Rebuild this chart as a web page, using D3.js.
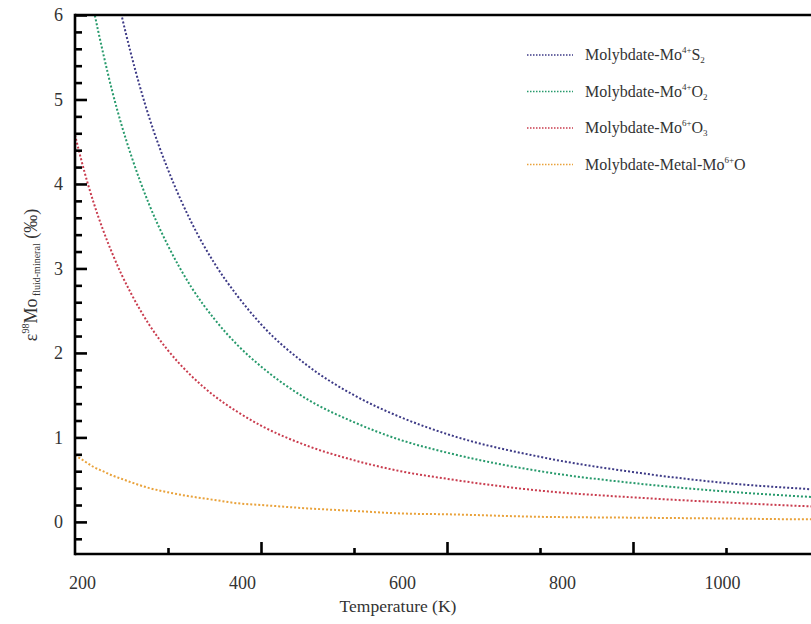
<!DOCTYPE html>
<html>
<head>
<meta charset="utf-8">
<script src="https://cdn.jsdelivr.net/npm/d3@7/dist/d3.min.js"></script>
<style>
  html, body { margin: 0; padding: 0; background: #fff; }
  svg { display: block; font-family: "Liberation Serif", "Times New Roman", "DejaVu Serif", serif; }
</style>
</head>
<body>
<svg id="chart" width="811" height="624"></svg>
<script>
// ---- data ----
const temps = [200, 210, 220, 230, 240, 250, 260, 280, 300, 325, 350, 375, 400, 450, 500, 550, 600, 700, 800, 900, 1000, 1100];
const moS2  = [9.38, 8.50, 7.75, 7.09, 6.51, 6.00, 5.55, 4.78, 4.17, 3.55, 3.06, 2.67, 2.34, 1.85, 1.50, 1.24, 1.04, 0.77, 0.59, 0.46, 0.38, 0.31];
const moO2  = [7.35, 6.67, 6.07, 5.56, 5.10, 4.70, 4.35, 3.75, 3.27, 2.78, 2.40, 2.09, 1.84, 1.45, 1.18, 0.97, 0.82, 0.60, 0.46, 0.36, 0.29, 0.24];
const moO3  = [4.58, 4.15, 3.78, 3.46, 3.18, 2.93, 2.71, 2.33, 2.03, 1.73, 1.49, 1.30, 1.14, 0.90, 0.73, 0.60, 0.51, 0.37, 0.29, 0.23, 0.18, 0.15];
const metal = [0.79, 0.72, 0.65, 0.60, 0.55, 0.51, 0.47, 0.40, 0.35, 0.30, 0.26, 0.22, 0.20, 0.16, 0.13, 0.10, 0.09, 0.06, 0.05, 0.04, 0.03, 0.03];

const seriesNames = [
  {main: "Molybdate-Mo", sup: "4+", tail: "S", sub: "2"},
  {main: "Molybdate-Mo", sup: "4+", tail: "O", sub: "2"},
  {main: "Molybdate-Mo", sup: "6+", tail: "O", sub: "3"},
  {main: "Molybdate-Metal-Mo", sup: "6+", tail: "O", sub: ""}
];
const seriesValues = [moS2, moO2, moO3, metal];
const seriesColors = ["#3d3a86", "#279a6c", "#c93c4e", "#e9a23b"];

const xTickMajor = [400, 600, 800, 1000];
const xTickMinor = [300, 500, 700, 900, 1100];
const xTickLabels = [200, 400, 600, 800, 1000];
const yTickMajor = [0, 1, 2, 3, 4, 5, 6];
const yTickMinor = [-0.2, 0.2, 0.4, 0.6, 0.8, 1.2, 1.4, 1.6, 1.8, 2.2, 2.4, 2.6, 2.8, 3.2, 3.4, 3.6, 3.8, 4.2, 4.4, 4.6, 4.8, 5.2, 5.4, 5.6, 5.8];

// ---- layout ----
const svg = d3.select("#chart");
const mLeft = 75, mTop = 15, mBottom = 554;

const x = d3.scaleLinear().domain([200, 1200]).range([mLeft, mLeft + 930]);
const y = d3.scaleLinear().domain([-0.38, 6]).range([mBottom, mTop]);
// the tick-label row of the reference is laid out on its own spacing
const xLab = d3.scaleLinear().domain([200, 1000]).range([82, 722]);

svg.append("defs").append("clipPath").attr("id", "clip")
  .append("rect").attr("x", mLeft).attr("y", mTop).attr("width", 811 - mLeft).attr("height", mBottom - mTop);

// curves
const line = d3.line().x((d, i) => x(temps[i])).y(d => y(d)).curve(d3.curveMonotoneX);
const plot = svg.append("g").attr("clip-path", "url(#clip)");
seriesValues.forEach((vals, k) => {
  plot.append("path")
    .attr("d", line(vals))
    .attr("fill", "none")
    .attr("stroke", seriesColors[k])
    .attr("stroke-width", 2)
    .attr("stroke-dasharray", "2,2");
});

// axes
function styleAxis(g) {
  g.select(".domain").remove();
  g.selectAll(".tick line").attr("stroke", "#000").attr("stroke-width", 2.6);
}
svg.append("g").attr("transform", `translate(0,${mBottom})`)
  .call(d3.axisBottom(x).tickValues(xTickMajor).tickSize(-12).tickFormat(""))
  .call(styleAxis);
svg.append("g").attr("transform", `translate(0,${mBottom})`)
  .call(d3.axisBottom(x).tickValues(xTickMinor).tickSize(-6).tickFormat(""))
  .call(styleAxis);
svg.append("g").attr("transform", `translate(0,${mBottom})`)
  .call(d3.axisBottom(xLab).tickValues(xTickLabels).tickSize(0).tickPadding(22).tickFormat(d3.format("d")))
  .call(g => { g.select(".domain").remove(); g.selectAll(".tick line").remove(); })
  .call(g => g.selectAll("text").attr("font-size", 18).attr("fill", "#333").attr("font-family", "Liberation Serif"));

svg.append("g").attr("transform", `translate(${mLeft},0)`)
  .call(d3.axisLeft(y).tickValues(yTickMajor).tickSize(-12).tickPadding(12).tickFormat(d3.format("d")))
  .call(styleAxis)
  .call(g => g.selectAll("text").attr("font-size", 18).attr("fill", "#333").attr("font-family", "Liberation Serif"));
svg.append("g").attr("transform", `translate(${mLeft},0)`)
  .call(d3.axisLeft(y).tickValues(yTickMinor).tickSize(-7).tickFormat(""))
  .call(styleAxis);

// frame lines
svg.append("line").attr("x1", mLeft).attr("x2", 811).attr("y1", mBottom).attr("y2", mBottom)
  .attr("stroke", "#000").attr("stroke-width", 2.6);
svg.append("line").attr("x1", mLeft).attr("x2", 811).attr("y1", mTop).attr("y2", mTop)
  .attr("stroke", "#000").attr("stroke-width", 2.6);
svg.append("line").attr("x1", mLeft).attr("x2", mLeft).attr("y1", mTop - 1.3).attr("y2", mBottom + 1.3)
  .attr("stroke", "#000").attr("stroke-width", 2.6);

// axis titles
svg.append("text").attr("x", 398).attr("y", 612).attr("text-anchor", "middle")
  .attr("font-size", 17.5).attr("fill", "#333").text("Temperature (K)");

const yt = svg.append("text").attr("transform", "translate(37,275) rotate(-90)")
  .attr("text-anchor", "middle").attr("font-size", 18).attr("fill", "#333");
yt.append("tspan").text("ε");
yt.append("tspan").attr("font-size", 10).attr("dy", -8).text("98");
yt.append("tspan").attr("dy", 8).text("Mo");
yt.append("tspan").attr("font-size", 10).attr("dy", 3).text(" fluid-mineral");
yt.append("tspan").attr("dy", -3).text(" (‰)");

// legend
const leg = svg.append("g");
seriesNames.forEach((s, k) => {
  const yy = 55 + k * 36.5;
  leg.append("line").attr("x1", 527).attr("x2", 573).attr("y1", yy).attr("y2", yy)
    .attr("stroke", seriesColors[k]).attr("stroke-width", 1.6).attr("stroke-dasharray", "1.5,1.5");
  const t = leg.append("text").attr("x", 585).attr("y", yy + 5).attr("font-size", 16).attr("fill", "#333");
  t.append("tspan").text(s.main);
  t.append("tspan").attr("font-size", 9).attr("dy", -7).text(s.sup);
  t.append("tspan").attr("dy", 7).text(s.tail);
  if (s.sub) t.append("tspan").attr("font-size", 9).attr("dy", 3).text(s.sub);
});
</script>
</body>
</html>
